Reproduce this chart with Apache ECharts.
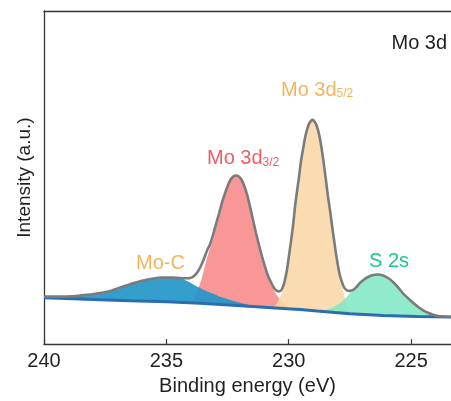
<!DOCTYPE html>
<html>
<head>
<meta charset="utf-8">
<script src="https://cdn.jsdelivr.net/npm/echarts@6/dist/echarts.min.js"></script>
<style>html,body{margin:0;padding:0;background:#fff}#c{width:451px;height:401px}</style>
</head>
<body>
<div id="c"></div>
<script>
// Binding energy (eV) ticks
var xTicks = [225, 230, 235, 240];
// Measured envelope (cumulative fit), [eV, intensity a.u.]
var envelope = [[240.00,47.7],[239.35,47.7],[238.86,48],[238.45,49],[238.04,50.2],[237.63,51.7],[237.22,54],[236.81,57.5],[236.40,61],[235.99,63.7],[235.59,65.8],[235.18,67],[234.77,67],[234.36,66.2],[234.03,66.5],[233.87,68.5],[233.71,73],[233.58,79],[233.46,86],[233.34,94],[233.22,100],[233.09,110],[232.97,121],[232.85,131],[232.73,142],[232.60,152],[232.48,160],[232.36,166],[232.24,169],[232.15,169.5],[232.07,169],[231.95,166],[231.83,160],[231.70,150],[231.58,138],[231.46,125],[231.34,112],[231.21,99],[231.09,88],[230.97,78],[230.85,69],[230.72,62],[230.60,56.5],[230.48,53.5],[230.40,53],[230.31,54],[230.23,58],[230.15,65],[230.07,75],[229.99,89],[229.91,103],[229.82,120],[229.74,139],[229.66,154],[229.58,168],[229.50,184],[229.41,197],[229.33,208],[229.25,216],[229.17,221.5],[229.09,224.5],[229.03,225.5],[228.97,224.5],[228.88,221],[228.80,215],[228.72,206],[228.64,194],[228.56,180],[228.48,165],[228.40,149],[228.31,134],[228.23,119],[228.15,105],[228.07,91],[227.99,79],[227.91,69],[227.82,62],[227.74,57],[227.62,54],[227.50,53.5],[227.37,54.5],[227.25,57],[227.09,61.5],[226.92,65],[226.76,67.5],[226.55,69.5],[226.35,70],[226.15,69],[225.94,66.5],[225.74,62.5],[225.53,57],[225.33,51],[225.12,46],[224.92,41.5],[224.72,37.5],[224.51,34],[224.31,31.5],[224.10,29.5],[223.90,28.3],[223.65,27.7],[223.37,27.3]];
// Background
var background = [[240.00,46.5],[238.81,45.7],[237.71,44.7],[236.49,43.7],[234.97,42.7],[233.62,41],[232.28,39],[231.17,37.3],[230.23,35.8],[229.54,34.7],[228.84,33.2],[228.11,31.7],[227.50,30.5],[226.15,28.7],[224.76,27.7],[223.37,27.2]];
// Fitted components (upper edges)
var moC = [[239.60,46.2],[239.35,47.7],[238.86,48],[238.45,49],[238.04,50.2],[237.63,51.7],[237.22,54],[236.81,57.5],[236.40,61],[235.99,63.7],[235.59,65.8],[235.18,67],[234.77,67],[234.36,66.2],[234.20,64],[234.03,62],[233.83,59],[233.62,56.5],[233.42,54],[233.22,52],[233.01,50],[232.81,47.7],[232.48,45],[232.13,42.7],[231.75,40.2],[231.38,38]];
var mo3d32 = [[234.03,40.5],[233.87,46],[233.71,55],[233.58,64],[233.46,75],[233.34,87],[233.22,96],[233.09,106],[232.97,117],[232.85,128],[232.73,139],[232.60,150],[232.48,158.5],[232.36,165],[232.24,168.5],[232.15,169],[232.07,168.5],[231.95,165.5],[231.83,159.5],[231.70,149.5],[231.58,137.5],[231.46,124.5],[231.34,111.5],[231.21,98.5],[231.09,87.5],[230.97,77.5],[230.85,68],[230.72,60],[230.60,54],[230.48,49],[230.36,45],[230.19,41],[230.03,37.5],[229.86,35.2]];
var mo3d52 = [[230.64,36.5],[230.52,40],[230.40,45],[230.27,52],[230.19,59],[230.11,68],[230.03,81],[229.95,95.5],[229.86,111],[229.78,130],[229.70,146.5],[229.62,161],[229.54,176],[229.46,190.5],[229.37,202.5],[229.29,212],[229.21,219],[229.13,223],[229.03,225],[228.92,223],[228.84,218],[228.76,210.5],[228.68,200],[228.60,187],[228.52,172.5],[228.44,157],[228.36,141],[228.27,126],[228.19,111.5],[228.11,97.5],[228.03,84.5],[227.95,73.5],[227.86,64],[227.78,54],[227.70,46],[227.62,39.5],[227.54,35],[227.41,30.4]];
var s2s = [[228.72,33.0],[228.48,34.2],[228.27,36],[228.07,38.5],[227.86,42],[227.70,45.5],[227.58,49],[227.46,52.5],[227.33,55.5],[227.21,58.5],[227.09,61],[226.92,64.5],[226.76,67],[226.55,69],[226.35,69.5],[226.15,68.5],[225.94,66],[225.74,62],[225.53,56.5],[225.33,50.5],[225.12,45.5],[224.92,41],[224.72,37],[224.51,33.5],[224.31,31],[224.10,29],[223.90,28],[223.65,27.5],[223.37,27.2]];

function areaSeries(top, color, opacity) {
  return {
    type: 'custom',
    coordinateSystem: 'cartesian2d',
    data: top,
    silent: true,
    renderItem: function (params, api) {
      if (params.dataIndex !== 0) return null;
      var eMax = top[0][0], eMin = top[top.length - 1][0];
      var pts = top.map(function (p) { return api.coord(p); });
      for (var i = background.length - 1; i >= 0; i--) {
        var b = background[i];
        if (b[0] > eMin && b[0] < eMax) pts.push(api.coord(b));
      }
      return { type: 'polygon', shape: { points: pts }, style: { fill: color, opacity: opacity } };
    }
  };
}

var FONT = 'Liberation Sans, Arial, Helvetica, sans-serif';
var chart = echarts.init(document.getElementById('c'), null, { renderer: 'canvas' });
chart.setOption({
  animation: false,
  backgroundColor: '#fff',
  grid: { left: 44, right: 0, top: 11, bottom: 55 },
  xAxis: [{
    type: 'value', inverse: true, min: 223.37, max: 240,
    name: 'Binding energy (eV)', nameLocation: 'middle', nameGap: 29,
    nameTextStyle: { fontSize: 20, color: '#231f20', fontFamily: FONT },
    axisLine: { lineStyle: { color: '#3a3434', width: 1.3 } },
    axisTick: { inside: true, length: 5, lineStyle: { color: '#3a3434', width: 1.2 }, customValues: xTicks },
    axisLabel: { fontSize: 20, color: '#231f20', margin: 7, fontFamily: FONT, customValues: xTicks },
    splitLine: { show: false }
  }, {
    type: 'value', inverse: true, min: 223.37, max: 240, position: 'top',
    axisLine: { lineStyle: { color: '#3a3434', width: 1.3 } },
    axisTick: { show: false }, axisLabel: { show: false }, splitLine: { show: false }
  }],
  yAxis: {
    type: 'value', min: 0, max: 335,
    name: 'Intensity (a.u.)', nameLocation: 'middle', nameRotate: 90, nameGap: 10,
    nameTextStyle: { fontSize: 19, color: '#231f20', fontFamily: FONT },
    axisLine: { show: true, lineStyle: { color: '#3a3434', width: 1.3 } },
    axisTick: { show: false }, axisLabel: { show: false }, splitLine: { show: false }
  },
  series: [
    areaSeries(mo3d32, '#f88989', 0.88),
    areaSeries(mo3d52, '#fad6a4', 0.85),
    areaSeries(s2s, '#7de8c3', 0.85),
    areaSeries(moC, '#2396c8', 0.92),
    { type: 'line', data: background, showSymbol: false, silent: true,
      lineStyle: { color: '#2a6db0', width: 3 }, z: 3 },
    { type: 'line', data: envelope, showSymbol: false, silent: true, smooth: 0.2,
      lineStyle: { color: '#7b7b7b', width: 2.6 }, z: 4 }
  ],
  graphic: [
    { type: 'text', x: 391.5, y: 43, style: { text: 'Mo 3d', fontSize: 20, fill: '#231f20', fontFamily: FONT, verticalAlign: 'middle' } },
    { type: 'text', x: 281, y: 90, style: { text: '{a|Mo 3d}{b|5/2}', fontFamily: FONT, verticalAlign: 'middle',
        rich: { a: { fontSize: 20, lineHeight: 20, fill: '#f3b45c', fontFamily: FONT }, b: { fontSize: 12, lineHeight: 10, verticalAlign: 'bottom', fill: '#f3b45c', fontFamily: FONT } } } },
    { type: 'text', x: 207, y: 158.5, style: { text: '{a|Mo 3d}{b|3/2}', fontFamily: FONT, verticalAlign: 'middle',
        rich: { a: { fontSize: 20, lineHeight: 20, fill: '#f25c66', fontFamily: FONT }, b: { fontSize: 12, lineHeight: 10, verticalAlign: 'bottom', fill: '#f25c66', fontFamily: FONT } } } },
    { type: 'text', x: 136, y: 263, style: { text: 'Mo-C', fontSize: 20, fill: '#f3b45c', fontFamily: FONT, verticalAlign: 'middle' } },
    { type: 'text', x: 369, y: 261, style: { text: 'S 2s', fontSize: 20, fill: '#17c98d', fontFamily: FONT, verticalAlign: 'middle' } }
  ]
});
</script>
</body>
</html>
